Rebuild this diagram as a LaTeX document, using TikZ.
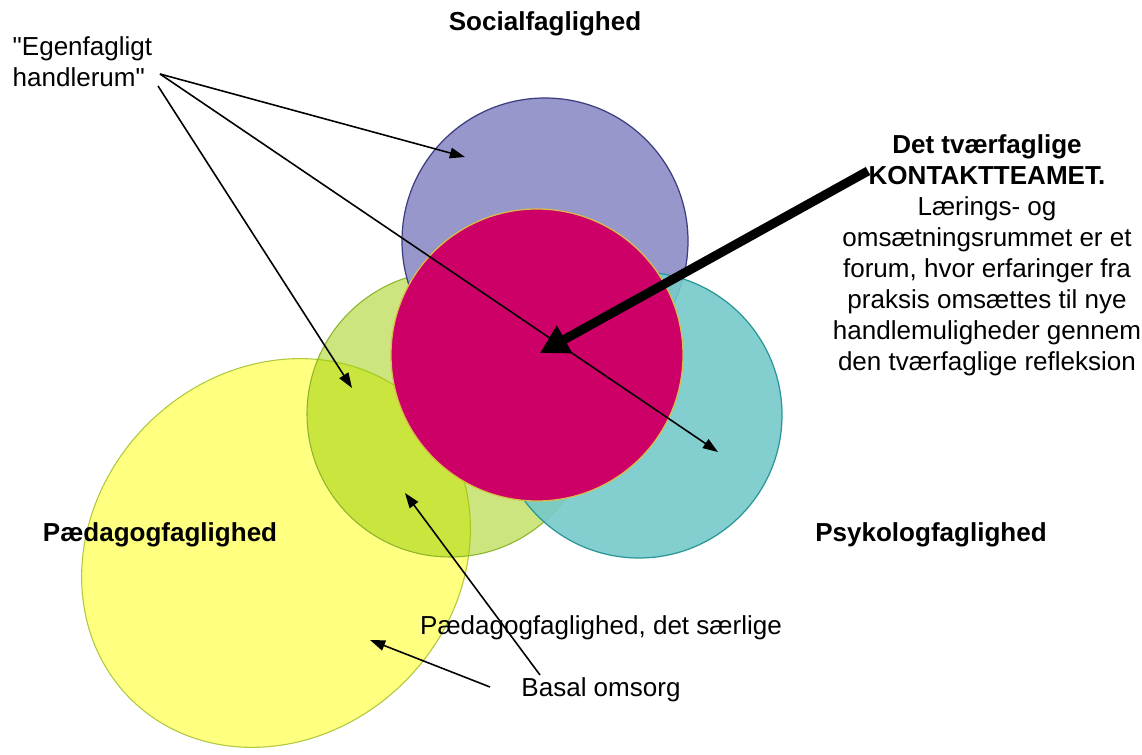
\documentclass[tikz,border=0pt]{standalone}
\usepackage{fontspec}
\newfontfamily\arialfont{Liberation Sans}
\usepackage{tikz}
\usetikzlibrary{arrows.meta}
\def\radius{143}
\definecolor{socialblue}{RGB}{151,151,204}
\definecolor{socialedge}{RGB}{60,60,130}
\definecolor{psykteal}{RGB}{118,202,202}
\definecolor{psykedge}{RGB}{40,150,150}
\definecolor{limegreen}{RGB}{153,204,0}
\definecolor{limeedge}{RGB}{140,180,40}
\definecolor{paedyellow}{RGB}{255,255,128}
\definecolor{paededge}{RGB}{175,200,60}
\definecolor{teampink}{RGB}{204,0,102}
\definecolor{teamedge}{RGB}{215,190,70}
\tikzstyle{lbl}       = [inner sep=0pt, font=\arialfont\fontsize{7.4}{8.8}\selectfont]
\tikzstyle{boldlbl}   = [lbl, font=\arialfont\fontsize{7.4}{8.8}\selectfont\bfseries]
\tikzstyle{thinarrow} = [line width=0.45pt, -{Triangle[length=4.3pt,width=3pt]}]
\tikzstyle{bigarrow}  = [line width=2.6pt, -{Triangle[length=8pt,width=8.5pt]}]
\begin{document}
\begin{tikzpicture}[x=0.01cm,y=-0.01cm]
		\useasboundingbox (0,0) rectangle (1142,755);
		% centres of the circles
		\coordinate (paed) at (276,553);
		\coordinate (green) at (450,414);
		\coordinate (social) at (545,241);
		\coordinate (psyk) at (639,415);
		\coordinate (team) at (537,355);
		% shapes
		\draw[paededge, line width=0.3pt, fill=paedyellow] (paed) ellipse [x radius=206, y radius=182, rotate=45];
		\draw[limeedge, line width=0.3pt, fill=limegreen, fill opacity=0.5] (green) circle[radius=\radius];
		\draw[socialedge, line width=0.35pt, fill=socialblue] (social) circle[radius=\radius];
		\draw[psykedge, line width=0.35pt, fill=psykteal, fill opacity=0.9] (psyk) circle[radius=\radius];
		\draw[teamedge, line width=0.35pt, fill=teampink] (team) circle[radius=146];
		% labels
		\node[boldlbl] (sociallbl) at (545,24) {Socialfaglighed};
		\node[boldlbl] (paedlbl) at (160,535) {Pædagogfaglighed};
		\node[boldlbl] (psyklbl) at (931,535) {Psykologfaglighed};
		\node[lbl, anchor=west, align=left] (egen) at (12,62) {"Egenfagligt\\handlerum"};
		\node[lbl, anchor=north, align=center] (teamlbl) at (987,134) {\textbf{Det tværfaglige}\\\textbf{KONTAKTTEAMET.}\\Lærings- og\\omsætningsrummet er et\\forum, hvor erfaringer fra\\praksis omsættes til nye\\handlemuligheder gennem\\den tværfaglige refleksion};
		\node[lbl] (saerlig) at (601,628) {Pædagogfaglighed, det særlige};
		\node[lbl] (basal) at (601,690) {Basal omsorg};
		% arrow ends
		\coordinate (e1) at (160,74);
		\coordinate (e2) at (158,86);
		\coordinate (k1) at (868,171);
		\coordinate (b1) at (490,687);
		\coordinate (b2) at (540,675);
		\coordinate (tsocial) at (465,157);
		\coordinate (tpsyk) at (718,452);
		\coordinate (tgreen) at (352,388);
		\coordinate (tteam) at (540,353);
		\coordinate (tpaed) at (370,640);
		\coordinate (tgreen2) at (405,493);
		% arrows
		\draw[thinarrow] (e1) -- (tsocial);
		\draw[thinarrow] (e1) -- (tpsyk);
		\draw[thinarrow] (e2) -- (tgreen);
		\draw[bigarrow] (k1) -- (tteam);
		\draw[thinarrow] (b1) -- (tpaed);
		\draw[thinarrow] (b2) -- (tgreen2);
	\end{tikzpicture}
\end{document}
